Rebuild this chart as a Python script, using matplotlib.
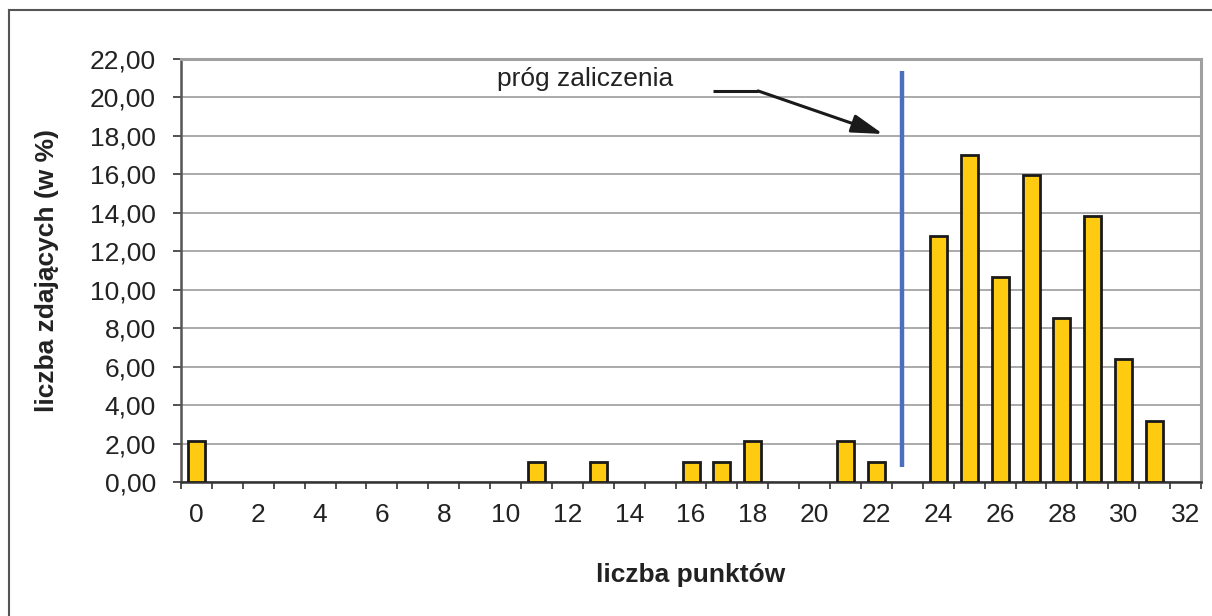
import matplotlib
matplotlib.use("Agg")
import matplotlib.pyplot as plt
from matplotlib.ticker import FuncFormatter, MultipleLocator, FixedLocator
from matplotlib.lines import Line2D

plt.rcParams['font.family'] = ['Liberation Sans', 'DejaVu Sans']

# data
points = [0, 11, 13, 16, 17, 18, 21, 22, 24, 25, 26, 27, 28, 29, 30, 31]
percent = [2.13, 1.06, 1.06, 1.06, 1.06, 2.13, 2.13, 1.06,
           12.77, 17.02, 10.64, 15.96, 8.51, 13.83, 6.38, 3.19]
x_tick_labels = [str(v) for v in range(0, 33, 2)]
threshold_x = 22.83
threshold_y = (0.78, 21.37)
annot_text = "próg zaliczenia"

fig = plt.figure(figsize=(12.12, 6.16), dpi=100)
ax = fig.add_axes([181/1212, (616-482)/616, (1201-181)/1212, (482-59)/616])

ax.set_axisbelow(True)
ax.yaxis.grid(True, color='#9c9c9c', linewidth=1.2)
ax.bar(points, percent, width=0.55, color='#FECB10', edgecolor='#1a1a1a',
       linewidth=2.0, zorder=3)

ax.set_xlim(-0.5, 32.5)
ax.set_ylim(0, 22)
ax.yaxis.set_major_locator(MultipleLocator(2))
ax.yaxis.set_major_formatter(FuncFormatter(lambda v, p: f"{v:.2f}".replace('.', ',')))
ax.xaxis.set_major_locator(FixedLocator(list(range(0, 33, 2))))
ax.set_xticklabels(x_tick_labels)
ax.xaxis.set_minor_locator(FixedLocator([i - 0.5 for i in range(34)]))
ax.tick_params(axis='x', which='major', length=0, pad=15, labelsize=19, colors='#222222')
ax.tick_params(axis='x', which='minor', length=5, width=1.2, color='#333333', direction='out')
ax.tick_params(axis='y', which='major', length=6, width=1.2, color='#333333', pad=12,
               labelsize=19, labelcolor='#222222')

for s in ['top', 'right']:
    ax.spines[s].set_color('#a0a0a0')
    ax.spines[s].set_linewidth(2.2)
ax.spines['left'].set_color('#555555')
ax.spines['left'].set_linewidth(1.8)
ax.spines['bottom'].set_color('#333333')
ax.spines['bottom'].set_linewidth(1.8)

ax.set_xlabel('liczba punktów', fontsize=19, fontweight='bold', color='#222222', labelpad=26)
ax.set_ylabel('liczba zdających (w %)', fontsize=19, fontweight='bold', color='#222222', labelpad=22)

# threshold line
ax.plot([threshold_x, threshold_x], list(threshold_y), color='#4A6FBD', linewidth=3.2,
        solid_capstyle='butt', zorder=4)

# annotation
ax.text(9.72, 20.6, annot_text, fontsize=19, color='#222222', ha='left', va='baseline')
ax.plot([16.71, 18.17], [20.34, 20.34], color='#1a1a1a', linewidth=2.2, zorder=5,
        solid_capstyle='butt')
ax.annotate('', xy=(22.21, 18.10), xytext=(18.17, 20.34),
            arrowprops=dict(arrowstyle='-|>,head_length=0.95,head_width=0.28',
                            mutation_scale=20, color='#1a1a1a', linewidth=2.2,
                            shrinkA=0, shrinkB=0), zorder=5)

# figure border (top and left)
fig.add_artist(Line2D([9/1212, 1.0], [1 - 10/616, 1 - 10/616], transform=fig.transFigure,
                      color='#555555', linewidth=1.5))
fig.add_artist(Line2D([9/1212, 9/1212], [0.0, 1 - 10/616], transform=fig.transFigure,
                      color='#555555', linewidth=1.5))

fig.savefig('out.png', dpi=100)
